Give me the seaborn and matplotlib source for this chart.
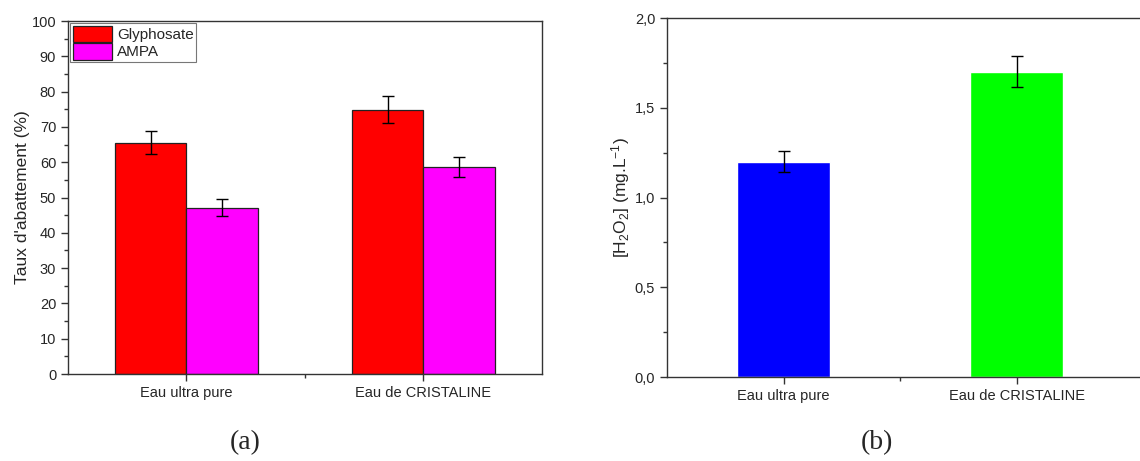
import numpy as np
import pandas as pd
import matplotlib
matplotlib.use("Agg")
import matplotlib.pyplot as plt
from matplotlib.ticker import MultipleLocator, FuncFormatter, FixedLocator
import seaborn as sns

# data
waters = ["Eau ultra pure", "Eau de CRISTALINE"]
glyphosate = [65.5, 74.9]
glyphosate_err = [3.3, 3.8]
ampa = [47.1, 58.6]
ampa_err = [2.4, 2.9]
h2o2 = [1.20, 1.70]
h2o2_err = [0.06, 0.086]

sns.set_style("ticks")
plt.rcParams['font.family'] = ['Liberation Sans', 'DejaVu Sans']
plt.rcParams['mathtext.fontset'] = 'custom'
plt.rcParams['mathtext.rm'] = 'Liberation Sans'
plt.rcParams['mathtext.it'] = 'Liberation Sans:italic'
plt.rcParams['axes.edgecolor'] = '#333333'
plt.rcParams['axes.linewidth'] = 1.0

fig = plt.figure(figsize=(11.4, 4.61), dpi=100)
ax1 = fig.add_axes([0.0596, 0.1887, 0.4158, 0.7657])
ax2 = fig.add_axes([0.5851, 0.1822, 0.4149, 0.7787])

# ---- (a)
df = pd.DataFrame({
    "water": waters * 2,
    "comp": ["Glyphosate"] * 2 + ["AMPA"] * 2,
    "val": glyphosate + ampa,
})
sns.barplot(data=df, x="water", y="val", hue="comp", order=waters,
            hue_order=["Glyphosate", "AMPA"], palette=["#ff0000", "#ff00ff"],
            width=0.6, gap=0, errorbar=None, edgecolor="#222222",
            linewidth=0.9, saturation=1, ax=ax1)
errs = glyphosate_err + ampa_err
for p, e in zip(ax1.patches[:4], errs):
    ax1.errorbar(p.get_x() + p.get_width() / 2, p.get_height(), yerr=e,
                 fmt="none", ecolor="black", elinewidth=1, capsize=4,
                 capthick=1)
ax1.set_xlim(-0.5, 1.5)
ax1.set_ylim(0, 100)
ax1.yaxis.set_major_locator(MultipleLocator(10))
ax1.yaxis.set_minor_locator(MultipleLocator(5))
ax1.xaxis.set_minor_locator(FixedLocator([0.5]))
ax1.set_xlabel("")
ax1.set_ylabel("Taux d'abattement (%)", fontsize=12.5, labelpad=1)
ax1.tick_params(labelsize=10.5, length=5, width=1, color="#333333")
ax1.tick_params(which="minor", length=3, width=1, color="#333333")
leg = ax1.legend(loc="upper left", fontsize=11, frameon=True, fancybox=False,
                 borderpad=0.15, handlelength=2.6, handleheight=1.3,
                 handletextpad=0.3, labelspacing=0.05,
                 borderaxespad=0.15)
leg.get_frame().set_edgecolor("#555555")
leg.get_frame().set_linewidth(0.8)

# ---- (b)
df2 = pd.DataFrame({"water": waters, "val": h2o2})
sns.barplot(data=df2, x="water", y="val", hue="water", order=waters,
            palette=["#0000ff", "#00ff00"], width=0.4, errorbar=None,
            saturation=1, legend=False, ax=ax2)
for p, e in zip(ax2.patches[:2], h2o2_err):
    ax2.errorbar(p.get_x() + p.get_width() / 2, p.get_height(), yerr=e,
                 fmt="none", ecolor="black", elinewidth=1, capsize=4,
                 capthick=1)
ax2.set_xlim(-0.5, 1.53)
ax2.set_ylim(0, 2.0)
ax2.yaxis.set_major_locator(MultipleLocator(0.5))
ax2.yaxis.set_minor_locator(MultipleLocator(0.25))
ax2.yaxis.set_major_formatter(FuncFormatter(lambda v, p: f"{v:.1f}".replace(".", ",")))
ax2.xaxis.set_minor_locator(FixedLocator([0.5]))
ax2.set_xlabel("")
ax2.set_ylabel(r"[H$_2$O$_2$] (mg.L$^{-1}$)", fontsize=12.5, labelpad=2)
ax2.spines["right"].set_visible(False)
ax2.tick_params(labelsize=10.5, length=5, width=1, color="#333333")
ax2.tick_params(which="minor", length=3, width=1, color="#333333")

fig.text(0.215, 0.025, "(a)", fontsize=20, family="Liberation Serif", ha="center")
fig.text(0.769, 0.025, "(b)", fontsize=20, family="Liberation Serif", ha="center")

fig.savefig("out.png", dpi=100)
